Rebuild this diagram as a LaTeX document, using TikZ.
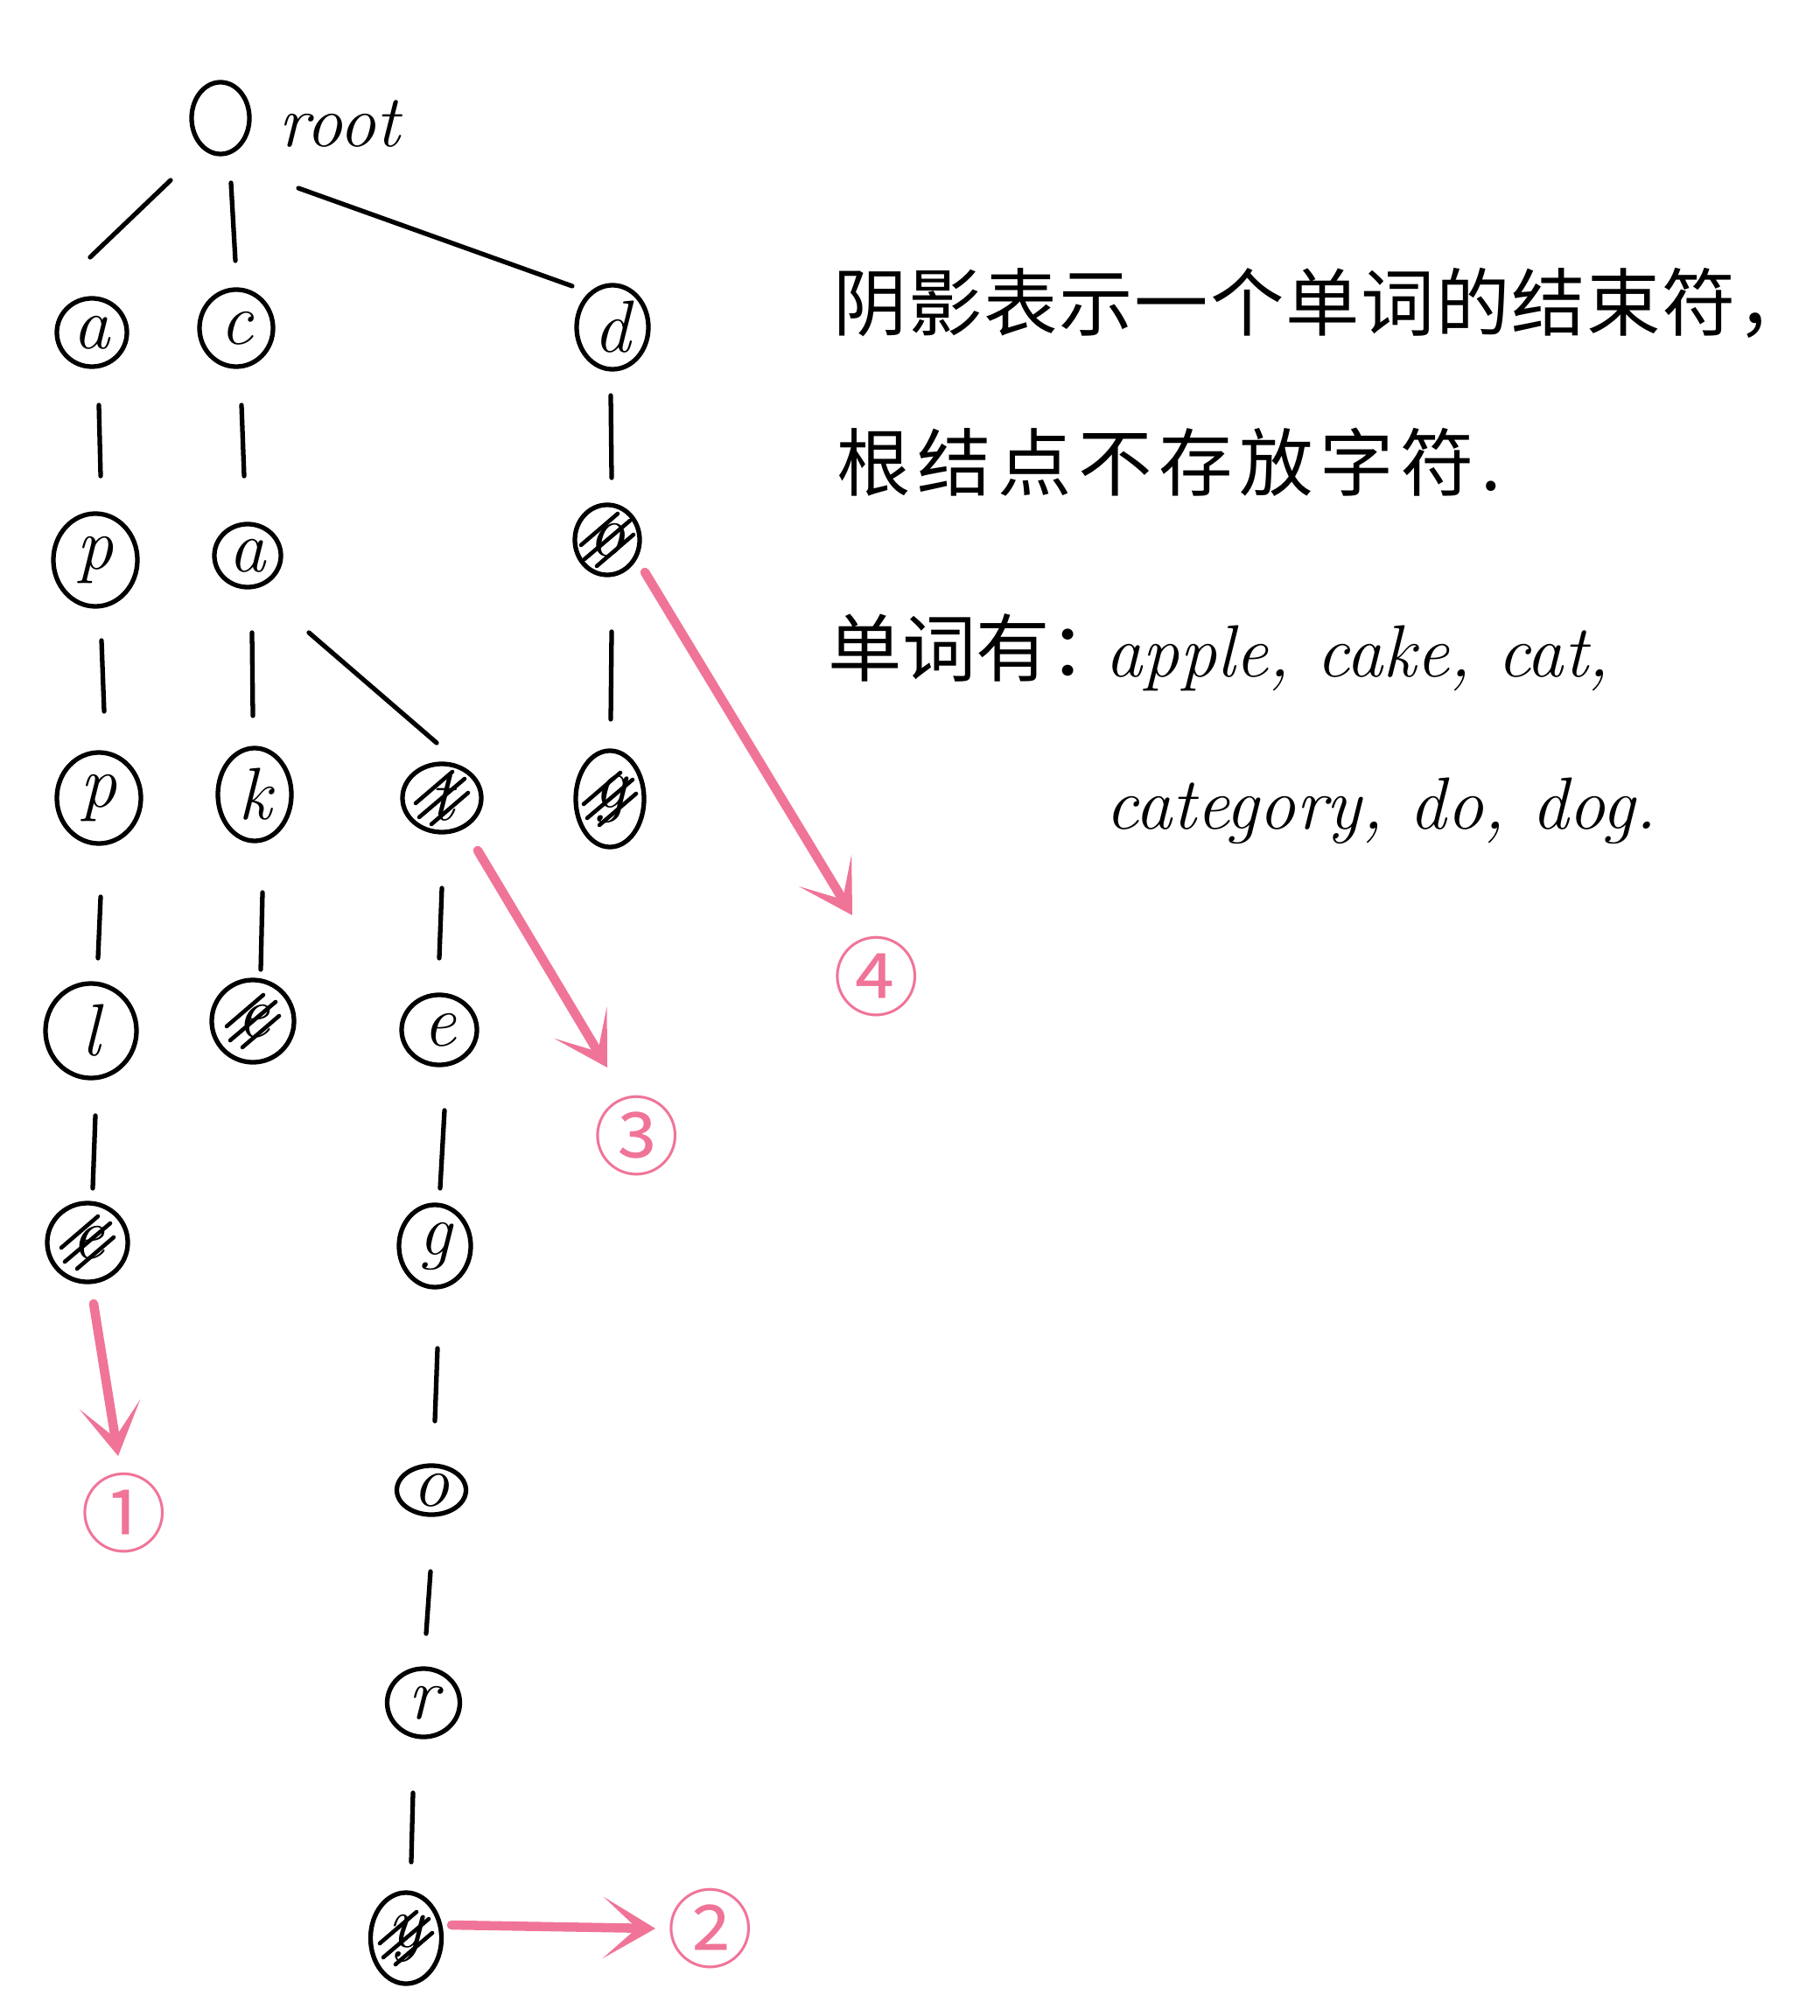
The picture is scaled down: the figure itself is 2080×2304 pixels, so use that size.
\documentclass[tikz,border=0pt]{standalone}
\usepackage{fontspec}
\newfontfamily\cjk{Noto Sans CJK SC}
\newfontfamily\cjkA[LetterSpace=2]{Noto Sans CJK SC}
\newfontfamily\cjkB[LetterSpace=9]{Noto Sans CJK SC}
\usetikzlibrary{shapes.geometric,arrows.meta,calc}
\definecolor{pinkc}{RGB}{240,116,152}
\tikzset{
  nd/.style 2 args={draw, ellipse, line width=1.5pt, inner sep=0pt,
    minimum width=#1*0.1mm, minimum height=#2*0.1mm,
    font=\fontsize{24}{28}\selectfont\itshape},
  hatchline/.style={line width=1.3pt, line cap=round},
  edge/.style={line width=1.5pt, line cap=round},
  parrow/.style={draw=pinkc, line width=3pt, line cap=round,
    -{Stealth[length=17pt,width=20pt,inset=11pt,fill=pinkc]}},
  num/.style={text=pinkc, font=\cjk\fontsize{28}{30}\selectfont, inner sep=0pt},
  cjktext/.style={font=\fontsize{24}{28}\selectfont, inner sep=0pt},
  lattext/.style={font=\fontsize{24}{28}\selectfont\itshape, inner sep=0pt},
}
\newcommand\hatchit[1]{%
  \draw[hatchline] ($(#1)+(-26,22)$) -- ($(#1)+(26,-22)$);
  \draw[hatchline] ($(#1)+(-30,6)$) -- ($(#1)+(12,-30)$);
  \draw[hatchline] ($(#1)+(-12,30)$) -- ($(#1)+(30,-6)$);}
\begin{document}
\begin{tikzpicture}[x=0.01cm,y=-0.01cm]
\useasboundingbox[fill=white] (0,0) rectangle (2080,2304);
% nodes
\node[nd={66}{82}] (root) at (252,135) {};
\node[lattext, anchor=base west] (rootlab) at (318,168) {root};
\node[nd={80}{78}] (a1) at (105,380) {a};
\node[nd={84}{88}] (c1) at (270,375) {c};
\node[nd={82}{96}] (d1) at (700,374) {d};
\node[nd={96}{106}] (p2) at (109,640) {p};
\node[nd={76}{72}] (a2) at (283,635) {a};
\node[nd={74}{80}] (o2) at (694,617) {o};
\node[nd={96}{104}] (p3) at (113,912) {p};
\node[nd={84}{106}] (k3) at (291,908) {k};
\node[nd={90}{78}] (t3) at (505,912) {t};
\node[nd={78}{110}] (g3) at (697,913) {g};
\node[nd={104}{108}] (l4) at (104,1178) {l};
\node[nd={94}{94}] (e4a) at (289,1167) {e};
\node[nd={86}{80}] (e4b) at (502,1177) {e};
\node[nd={92}{90}] (e5) at (100,1420) {e};
\node[nd={82}{94}] (g5) at (497,1424) {g};
\node[nd={79}{56}] (o6) at (493,1703) {o};
\node[nd={83}{78}] (r7) at (484,1946) {r};
\node[nd={81}{104}] (y8) at (464,2215) {y};
% hatching of end-of-word nodes
\hatchit{o2}
\hatchit{t3}
\hatchit{g3}
\hatchit{e4a}
\hatchit{e5}
\hatchit{y8}
% edges
\draw[edge] ($(root)+(-57,71)$) -- ($(a1)+(-2,-86)$);
\draw[edge] ($(root)+(12,74)$) -- ($(c1)+(-1,-77)$);
\draw[edge] ($(root)+(89,80)$) -- ($(d1)+(-46,-47)$);
\draw[edge] ($(a1)+(8,83)$) -- ($(p2)+(6,-96)$);
\draw[edge] ($(c1)+(6,88)$) -- ($(a2)+(-4,-91)$);
\draw[edge] ($(d1)+(-2,78)$) -- ($(o2)+(5,-71)$);
\draw[edge] ($(p2)+(7,92)$) -- ($(p3)+(6,-99)$);
\draw[edge] ($(a2)+(5,88)$) -- ($(k3)+(-2,-90)$);
\draw[edge] ($(a2)+(70,88)$) -- ($(t3)+(-6,-63)$);
\draw[edge] ($(o2)+(5,105)$) -- ($(g3)+(1,-91)$);
\draw[edge] ($(p3)+(2,113)$) -- ($(l4)+(8,-83)$);
\draw[edge] ($(k3)+(9,112)$) -- ($(e4a)+(9,-59)$);
\draw[edge] ($(t3)+(0,103)$) -- ($(e4b)+(0,-82)$);
\draw[edge] ($(l4)+(5,97)$) -- ($(e5)+(6,-62)$);
\draw[edge] ($(e4b)+(6,92)$) -- ($(g5)+(6,-66)$);
\draw[edge] ($(g5)+(3,117)$) -- ($(o6)+(4,-79)$);
\draw[edge] ($(o6)+(-1,93)$) -- ($(r7)+(3,-79)$);
\draw[edge] ($(r7)+(-12,103)$) -- ($(y8)+(6,-87)$);
% circled numbers
\node[num] (n1) at (142,1729) {①};
\node[num] (n2) at (812,2204) {②};
\node[num] (n3) at (728,1298) {③};
\node[num] (n4) at (1002,1116) {④};
% pink arrows
\draw[parrow] ($(e5)+(7,70)$) -- ($(n1)+(-7,-65)$);
\draw[parrow] ($(y8)+(52,-15)$) -- ($(n2)+(-63,0)$);
\draw[parrow] ($(t3)+(41,60)$) -- ($(n3)+(-34,-78)$);
\draw[parrow] ($(o2)+(43,37)$) -- ($(n4)+(-28,-70)$);
% text
\node[cjktext, anchor=west] (txt1) at (952,346) {\cjkA 阴影表示一个单词的结束符，};
\node[cjktext, anchor=west] (txt2) at (956,528) {\cjkB 根结点不存放字符.};
\node[cjktext, anchor=west] (txt3) at (946,740) {\cjk 单词有：};
\node[lattext, anchor=base west] (txt3b) at (1263,773) {apple, cake, cat,};
\node[lattext, anchor=base west] (txt4) at (1263,947) {category, do, dog.};
\end{tikzpicture}
\end{document}
